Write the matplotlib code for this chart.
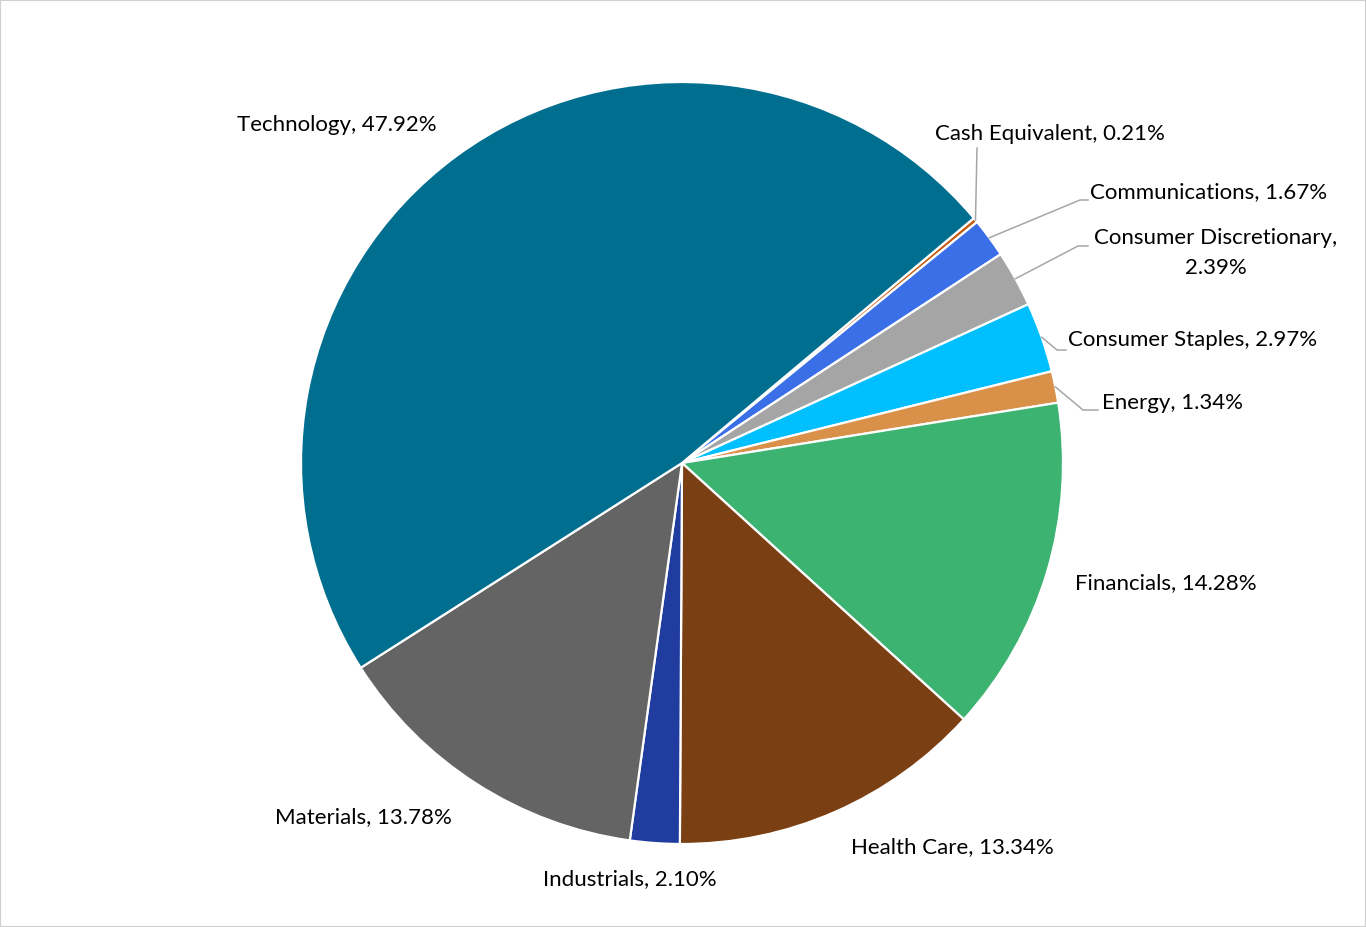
import matplotlib
matplotlib.use("Agg")
import matplotlib.pyplot as plt
import numpy as np

categories = ["Cash Equivalent", "Communications", "Consumer Discretionary",
              "Consumer Staples", "Energy", "Financials", "Health Care",
              "Industrials", "Materials", "Technology"]
values = [0.21, 1.67, 2.39, 2.97, 1.34, 14.28, 13.34, 2.10, 13.78, 47.92]
colors = ["#C55A11", "#3A6FE8", "#A5A5A5", "#00BFFF", "#D9914A", "#3CB371",
          "#7B3F14", "#1F3C9E", "#646464", "#006E8F"]

W, H = 1366, 927
fig = plt.figure(figsize=(W / 100, H / 100), dpi=100)
ax = fig.add_axes([0, 0, 1, 1])

cx, cy, R = 682, H - 463, 381
wedges, _ = ax.pie(values, colors=colors, startangle=40, counterclock=False,
                   center=(cx, cy), radius=R, frame=True,
                   wedgeprops=dict(edgecolor="white", linewidth=1.6))
ax.set_xlim(0, W)
ax.set_ylim(0, H)
ax.set_aspect("equal")
ax.axis("off")


def iy(y):
    return H - y

# label layout: (text x, text y (image coords), ha, elbow points in image coords or None)
layout = {
    "Technology": (237, 125, "left", None),
    "Cash Equivalent": (935, 134, "left", [(977, 148)]),
    "Communications": (1090, 192, "left", [(1080, 200), (1088, 200)]),
    "Consumer Discretionary": (1216, 253, "center", [(1078, 246), (1088, 246)]),
    "Consumer Staples": (1068, 340, "left", [(1057, 350), (1066, 350)]),
    "Energy": (1102, 403, "left", [(1083, 410), (1098, 410)]),
    "Financials": (1075, 583, "left", None),
    "Health Care": (851, 847, "left", None),
    "Industrials": (543, 879, "left", None),
    "Materials": (275, 817, "left", None),
}

fp = dict(family=["Lato", "DejaVu Sans"], fontsize=16, color="#000000")
for w, cat, val in zip(wedges, categories, values):
    tx, ty, ha, elbow = layout[cat]
    if cat == "Consumer Discretionary":
        txt = f"{cat},\n{val:.2f}%"
    else:
        txt = f"{cat}, {val:.2f}%"
    ax.text(tx, iy(ty), txt, ha=ha, va="center", multialignment="center",
            linespacing=1.65, **fp)
    if elbow:
        mid = np.deg2rad((w.theta1 + w.theta2) / 2)
        ex, ey = cx + R * np.cos(mid), cy + R * np.sin(mid)
        xs = [ex] + [p[0] for p in elbow]
        ys = [ey] + [iy(p[1]) for p in elbow]
        ax.plot(xs, ys, color="#A6A6A6", lw=1.1)

fig.patches.append(plt.Rectangle((0, 0), 1, 1, transform=fig.transFigure,
                                 fill=False, edgecolor="#D0D0D0", lw=1.5))
fig.savefig("out.png", dpi=100, facecolor="white")
